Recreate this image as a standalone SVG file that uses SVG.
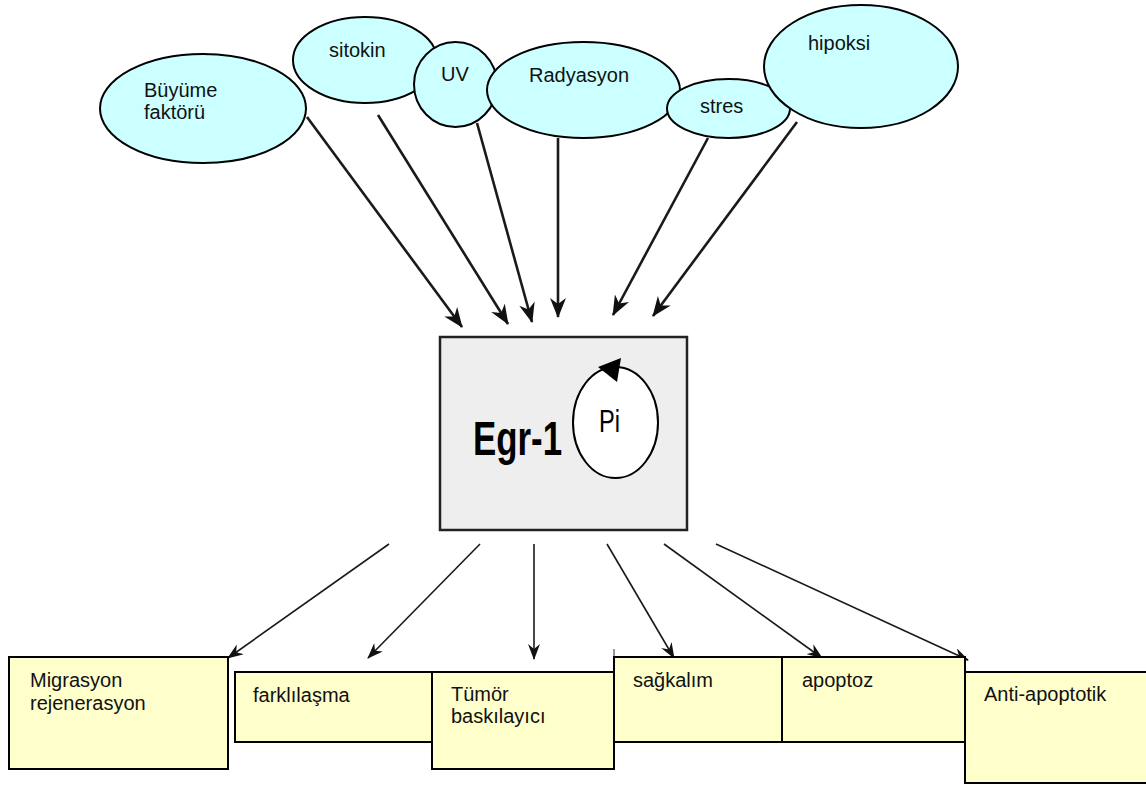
<svg xmlns="http://www.w3.org/2000/svg" width="1146" height="785" viewBox="0 0 1146 785">
<style>
.bg{fill:#ffffff}
.ell{fill:#ccffff;stroke:#000;stroke-width:2}
.box{fill:#ffffcc;stroke:#000;stroke-width:2}
.t{font-family:"Liberation Sans",Arial,sans-serif;font-size:20px;fill:#111}
.up{fill:none;stroke:#1a1a1a;stroke-width:2.6;marker-end:url(#ah)}
.dn{fill:none;stroke:#1a1a1a;stroke-width:1.6;marker-end:url(#ah2)}
</style>
<defs>
<marker id="ah" viewBox="0 0 20 16" refX="19" refY="8" markerWidth="20" markerHeight="16" markerUnits="userSpaceOnUse" orient="auto">
<path d="M0,0 L20,8 L0,16 L6,8 z" fill="#111"/>
</marker>
<marker id="ah2" viewBox="0 0 16 12" refX="15" refY="6" markerWidth="16" markerHeight="12" markerUnits="userSpaceOnUse" orient="auto">
<path d="M0,0 L16,6 L0,12 L5,6 z" fill="#111"/>
</marker>
</defs>
<rect class="bg" x="0" y="0" width="1146" height="785"/>

<g id="connectors">
<line class="up" x1="307" y1="117" x2="462" y2="327"/>
<line class="up" x1="378" y1="115" x2="508" y2="324"/>
<line class="up" x1="477" y1="123" x2="532" y2="322"/>
<line class="up" x1="558" y1="138" x2="558" y2="317"/>
<line class="up" x1="708" y1="138" x2="613" y2="315"/>
<line class="up" x1="797" y1="122" x2="653" y2="316"/>
<line class="dn" x1="389" y1="544" x2="228" y2="658"/>
<line class="dn" x1="480" y1="544" x2="368" y2="658"/>
<line class="dn" x1="534" y1="544" x2="534" y2="659"/>
<line class="dn" x1="607" y1="544" x2="674" y2="658"/>
<line class="dn" x1="664" y1="544" x2="822" y2="658"/>
<line class="dn" x1="716" y1="544" x2="968" y2="660"/>
<line x1="614" y1="649" x2="614" y2="656" stroke="#333" stroke-width="1"/>
</g>

<g id="sitokin">
<ellipse class="ell" cx="365" cy="60" rx="72" ry="43"/>
<text class="t" x="329" y="57">sitokin</text>
</g>
<g id="uv">
<ellipse class="ell" cx="455.5" cy="84.5" rx="41.5" ry="42.5"/>
<text class="t" x="441" y="81">UV</text>
</g>
<g id="radyasyon">
<ellipse class="ell" cx="583.5" cy="90" rx="96.5" ry="48"/>
<text class="t" x="529" y="82">Radyasyon</text>
</g>
<g id="stres">
<ellipse class="ell" cx="728.5" cy="108.5" rx="61.5" ry="29.5"/>
<text class="t" x="700" y="113">stres</text>
</g>
<g id="hipoksi">
<ellipse class="ell" cx="861" cy="66.5" rx="97" ry="61.5"/>
<text class="t" x="808" y="50">hipoksi</text>
</g>
<g id="buyume">
<ellipse class="ell" cx="203" cy="108.5" rx="103" ry="54.5"/>
<text class="t" x="144" y="97">Büyüme</text>
<text class="t" x="144" y="119">faktörü</text>
</g>

<g id="egr1">
<rect x="440" y="337" width="247" height="193" fill="#eeeeee" stroke="#222" stroke-width="2.5"/>
<text x="473" y="455" font-family="'Liberation Sans',Arial,sans-serif" font-weight="bold" font-size="48" textLength="89" lengthAdjust="spacingAndGlyphs" fill="#000">Egr-1</text>
<ellipse cx="615.5" cy="422.5" rx="42.5" ry="55.5" fill="#ffffff" stroke="#000" stroke-width="2"/>
<polygon points="598,367 621,358 617,382" fill="#000"/>
<text x="599" y="432" font-family="'Liberation Sans',Arial,sans-serif" font-size="31" textLength="21" lengthAdjust="spacingAndGlyphs" fill="#000">Pi</text>
</g>

<g id="migrasyon">
<rect class="box" x="9" y="657" width="219" height="112"/>
<text class="t" x="30" y="687">Migrasyon</text>
<text class="t" x="30" y="710">rejenerasyon</text>
</g>
<g id="farklilasma">
<rect class="box" x="235" y="672" width="197" height="70"/>
<text class="t" x="253" y="702">farklılaşma</text>
</g>
<g id="tumor">
<rect class="box" x="432" y="672" width="182" height="97"/>
<text class="t" x="451" y="701">Tümör</text>
<text class="t" x="451" y="723">baskılayıcı</text>
</g>
<g id="sagkalim">
<rect class="box" x="614" y="657" width="168" height="85"/>
<text class="t" x="633" y="687">sağkalım</text>
</g>
<g id="apoptoz">
<rect class="box" x="782" y="657" width="183" height="85"/>
<text class="t" x="802" y="687">apoptoz</text>
</g>
<g id="antiapoptotik">
<rect class="box" x="965" y="672" width="185" height="111"/>
<text class="t" x="984" y="701">Anti-apoptotik</text>
</g>
</svg>
